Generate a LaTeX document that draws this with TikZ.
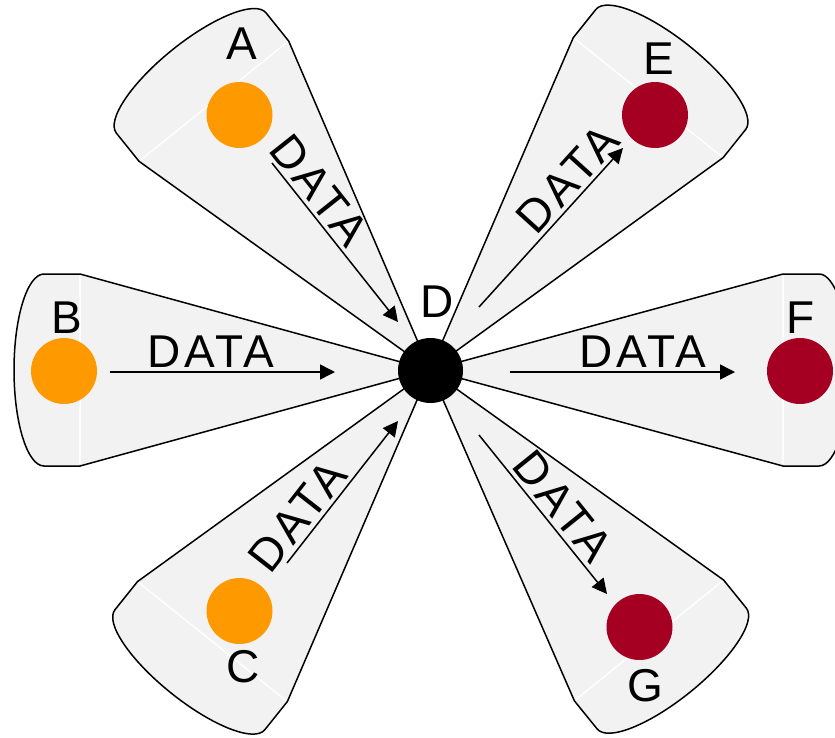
\documentclass[tikz,border=0pt]{standalone}
\usepackage{fontspec}
\setmainfont{Liberation Sans}
\usetikzlibrary{arrows.meta}

\definecolor{petalfill}{HTML}{F2F2F2}
\definecolor{srcorange}{HTML}{FF9900}
\definecolor{sinkred}{HTML}{A50021}

\newfontfamily\flowfont[LetterSpace=8]{Liberation Sans}

\tikzset{
  petalbody/.style={fill=petalfill},
  petaledge/.style={draw=black, line width=1.5pt, line join=round},
  seam/.style={draw=white, line width=1.6pt, opacity=0.85},
  src/.style={circle, fill=srcorange, minimum size=66pt, inner sep=0pt},
  sink/.style={circle, fill=sinkred, minimum size=66pt, inner sep=0pt},
  hub/.style={circle, fill=black, minimum size=65pt, inner sep=0pt},
  lbl/.style={font=\fontsize{46}{55}\selectfont, inner sep=0pt},
  flow/.style={line width=1.5pt, -{Triangle[length=15pt,width=15pt]}},
  datalbl/.style={font=\flowfont\fontsize{46}{55}\selectfont, sloped, above, inner sep=4pt},
}

% outline of one petal in its own frame: wedge from the hub out to the seam
% at distance #1, then a rounded cap
\newcommand\petaloutline[1]{%
  (0,0) -- (#1,96) -- ({#1+36},96)
  .. controls ({#1+36+0.5523*30},96) and ({#1+66},{0.5523*96}) .. ({#1+66},0)
  .. controls ({#1+66},{-0.5523*96}) and ({#1+36+0.5523*30},-96) .. ({#1+36},-96)
  -- (#1,-96) -- cycle}

% #1 direction (degrees), #2 distance from the hub to the seam
\newcommand\petal[2]{%
  \begin{scope}[shift={(430,370)}, rotate=#1]
    \path[petalbody] \petaloutline{#2};
    \draw[seam] (#2,94) -- (#2,-94);
    \path[petaledge] \petaloutline{#2};
  \end{scope}}

\begin{document}
\begin{tikzpicture}[x=1pt, y=-1pt]
  \useasboundingbox (0,0) rectangle (835,737);
  \clip (0,0) rectangle (835,737);

  % petals
  \petal{128.8}{345}
  \petal{180}{350}
  \petal{-128.7}{348}
  \petal{51.3}{349}
  \petal{0}{353}
  \petal{-51}{348}

  % hosts
  \node[hub]  (D) at (430.5,370.5) {};
  \node[src]  (A) at (239.5,115) {};
  \node[src]  (B) at (64,371) {};
  \node[src]  (C) at (239.5,611) {};
  \node[sink] (E) at (655,115) {};
  \node[sink] (F) at (800,371) {};
  \node[sink] (G) at (639.5,627) {};

  % host names
  \node[lbl] (labA) at (242,44) {A};
  \node[lbl] (labB) at (67,318) {B};
  \node[lbl] (labC) at (243.5,667) {C};
  \node[lbl] (labD) at (437,301.5) {D};
  \node[lbl] (labE) at (658.5,58.5) {E};
  \node[lbl] (labF) at (800.5,318) {F};
  \node[lbl] (labG) at (645,686) {G};

  % arrow ends
  \coordinate (a1) at (272,163);  \coordinate (a2) at (398,322);
  \coordinate (b1) at (110,372);  \coordinate (b2) at (335,372);
  \coordinate (c1) at (287,563);  \coordinate (c2) at (398,421);
  \coordinate (e1) at (479,307);  \coordinate (e2) at (623,148);
  \coordinate (f1) at (510,372);  \coordinate (f2) at (735,372);
  \coordinate (g1) at (479,435);  \coordinate (g2) at (607,594);

  % data flows
  \draw[flow] (a1) -- node[datalbl, pos=0.25] (dA) {DATA} (a2);
  \draw[flow] (b1) -- node[datalbl, pos=0.45] (dB) {DATA} (b2);
  \draw[flow] (c1) -- node[datalbl, pos=0.24] (dC) {DATA} (c2);
  \draw[flow] (e1) -- node[datalbl, pos=0.72] (dE) {DATA} (e2);
  \draw[flow] (f1) -- node[datalbl, pos=0.59] (dF) {DATA} (f2);
  \draw[flow] (g1) -- node[datalbl, pos=0.53] (dG) {DATA} (g2);
\end{tikzpicture}
\end{document}
